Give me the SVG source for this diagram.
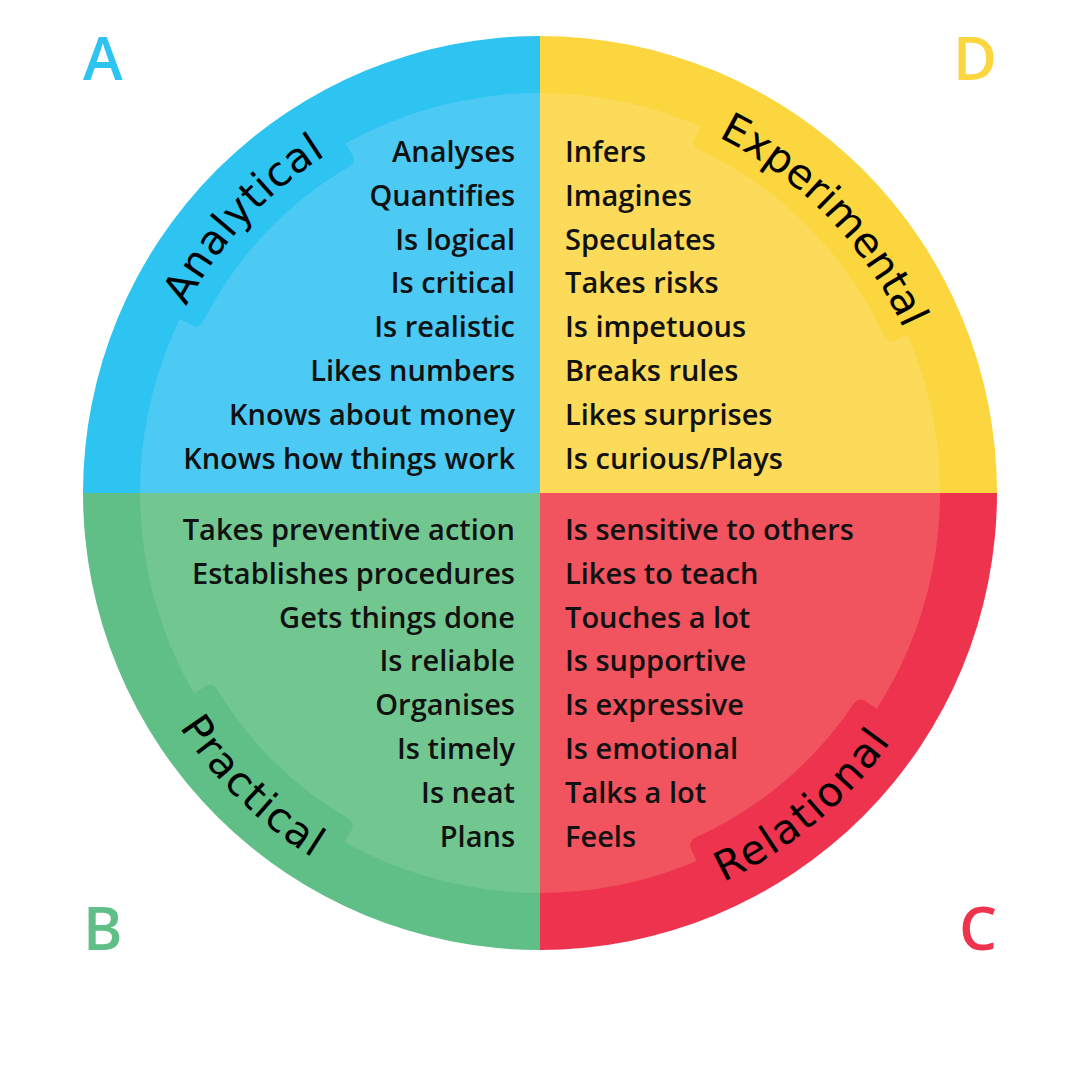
<svg xmlns="http://www.w3.org/2000/svg" width="1080" height="1080" viewBox="0 0 1080 1080">
<style>
.item{font-family:"Open Sans","Liberation Sans",sans-serif;font-weight:600;font-size:29px;fill:#111}
.l{text-anchor:end}
.lab{font-family:"DejaVu Sans","Open Sans",sans-serif;font-size:41px;fill:#000}
.corner{font-family:"Open Sans","Liberation Sans",sans-serif;font-weight:600;font-size:60px}
.band{stroke-width:16;stroke-linejoin:round}
</style>
<defs>
<path id="pA" d="M186.2,306.4 A400,400 0 0 1 370.9,130.5"/>
<path id="pD" d="M718.2,137.1 A399,399 0 0 1 919.5,370"/>
<path id="pB" d="M179.4,727.2 A430,430 0 0 0 358.3,882.7"/>
<path id="pC" d="M723.1,882.1 A430,430 0 0 0 919.7,694.9"/>
</defs>
<rect width="1080" height="1080" fill="#fff"/>

<g id="quadrant-A">
<path d="M540,493 L83,493 A457,457 0 0 1 540,36 Z" fill="#2EC4F1"/>
<path d="M540,493 L140,493 A400,400 0 0 1 540,93 Z" fill="#4CCAF3"/>
<path class="band" d="M147.6,293.9 A440,440 0 0 1 318.7,112.7 L345.8,159.4 A386,386 0 0 0 195.8,318.4 Z" fill="#2EC4F1" stroke="#2EC4F1"/>
<text class="lab"><textPath href="#pA" textLength="208" lengthAdjust="spacing">Analytical</textPath></text>
<text class="item l" x="515" y="162">Analyses</text>
<text class="item l" x="515" y="205.8">Quantifies</text>
<text class="item l" x="515" y="249.6">Is logical</text>
<text class="item l" x="515" y="293.4">Is critical</text>
<text class="item l" x="515" y="337.2">Is realistic</text>
<text class="item l" x="515" y="381">Likes numbers</text>
<text class="item l" x="515" y="424.8">Knows about money</text>
<text class="item l" x="515" y="468.6">Knows how things work</text>
<text class="corner" x="83" y="80" fill="#2EC4F1">A</text>
</g>

<g id="quadrant-D">
<path d="M540,493 L540,36 A457,457 0 0 1 997,493 Z" fill="#FBD63F"/>
<path d="M540,493 L540,93 A400,400 0 0 1 940,493 Z" fill="#FCDB5B"/>
<path class="band" d="M724.6,93.6 A440,440 0 0 1 940.7,311.2 L891.5,333.5 A386,386 0 0 0 701.9,142.6 Z" fill="#FBD63F" stroke="#FBD63F"/>
<text class="lab"><textPath href="#pD" textLength="272" lengthAdjust="spacing">Experimental</textPath></text>
<text class="item" x="565" y="162">Infers</text>
<text class="item" x="565" y="205.8">Imagines</text>
<text class="item" x="565" y="249.6">Speculates</text>
<text class="item" x="565" y="293.4">Takes risks</text>
<text class="item" x="565" y="337.2">Is impetuous</text>
<text class="item" x="565" y="381">Breaks rules</text>
<text class="item" x="565" y="424.8">Likes surprises</text>
<text class="item" x="565" y="468.6">Is curious/Plays</text>
<text class="corner" x="997" y="80" fill="#FBD63F" text-anchor="end">D</text>
</g>

<g id="quadrant-B">
<path d="M540,493 L540,950 A457,457 0 0 1 83,493 Z" fill="#5FBF86"/>
<path d="M540,493 L540,893 A400,400 0 0 1 140,493 Z" fill="#72C690"/>
<path class="band" d="M317.4,872.5 A440,440 0 0 1 163.6,720.9 L209.8,693 A386,386 0 0 0 344.7,825.9 Z" fill="#5FBF86" stroke="#5FBF86"/>
<text class="lab"><textPath href="#pB" textLength="188" lengthAdjust="spacing">Practical</textPath></text>
<text class="item l" x="515" y="540">Takes preventive action</text>
<text class="item l" x="515" y="583.8">Establishes procedures</text>
<text class="item l" x="515" y="627.6">Gets things done</text>
<text class="item l" x="515" y="671.4">Is reliable</text>
<text class="item l" x="515" y="715.2">Organises</text>
<text class="item l" x="515" y="759">Is timely</text>
<text class="item l" x="515" y="802.8">Is neat</text>
<text class="item l" x="515" y="846.6">Plans</text>
<text class="corner" x="83" y="950" fill="#5FBF86">B</text>
</g>

<g id="quadrant-C">
<path d="M540,493 L997,493 A457,457 0 0 1 540,950 Z" fill="#EE334E"/>
<path d="M540,493 L940,493 A400,400 0 0 1 540,893 Z" fill="#F1535F"/>
<path class="band" d="M905.6,737.8 A440,440 0 0 1 720.4,894.3 L698.2,845.1 A386,386 0 0 0 860.8,707.7 Z" fill="#EE334E" stroke="#EE334E"/>
<text class="lab"><textPath href="#pC" textLength="221" lengthAdjust="spacing">Relational</textPath></text>
<text class="item" x="565" y="540">Is sensitive to others</text>
<text class="item" x="565" y="583.8">Likes to teach</text>
<text class="item" x="565" y="627.6">Touches a lot</text>
<text class="item" x="565" y="671.4">Is supportive</text>
<text class="item" x="565" y="715.2">Is expressive</text>
<text class="item" x="565" y="759">Is emotional</text>
<text class="item" x="565" y="802.8">Talks a lot</text>
<text class="item" x="565" y="846.6">Feels</text>
<text class="corner" x="997" y="950" fill="#EE334E" text-anchor="end">C</text>
</g>
<g id="connectors"/>
</svg>
